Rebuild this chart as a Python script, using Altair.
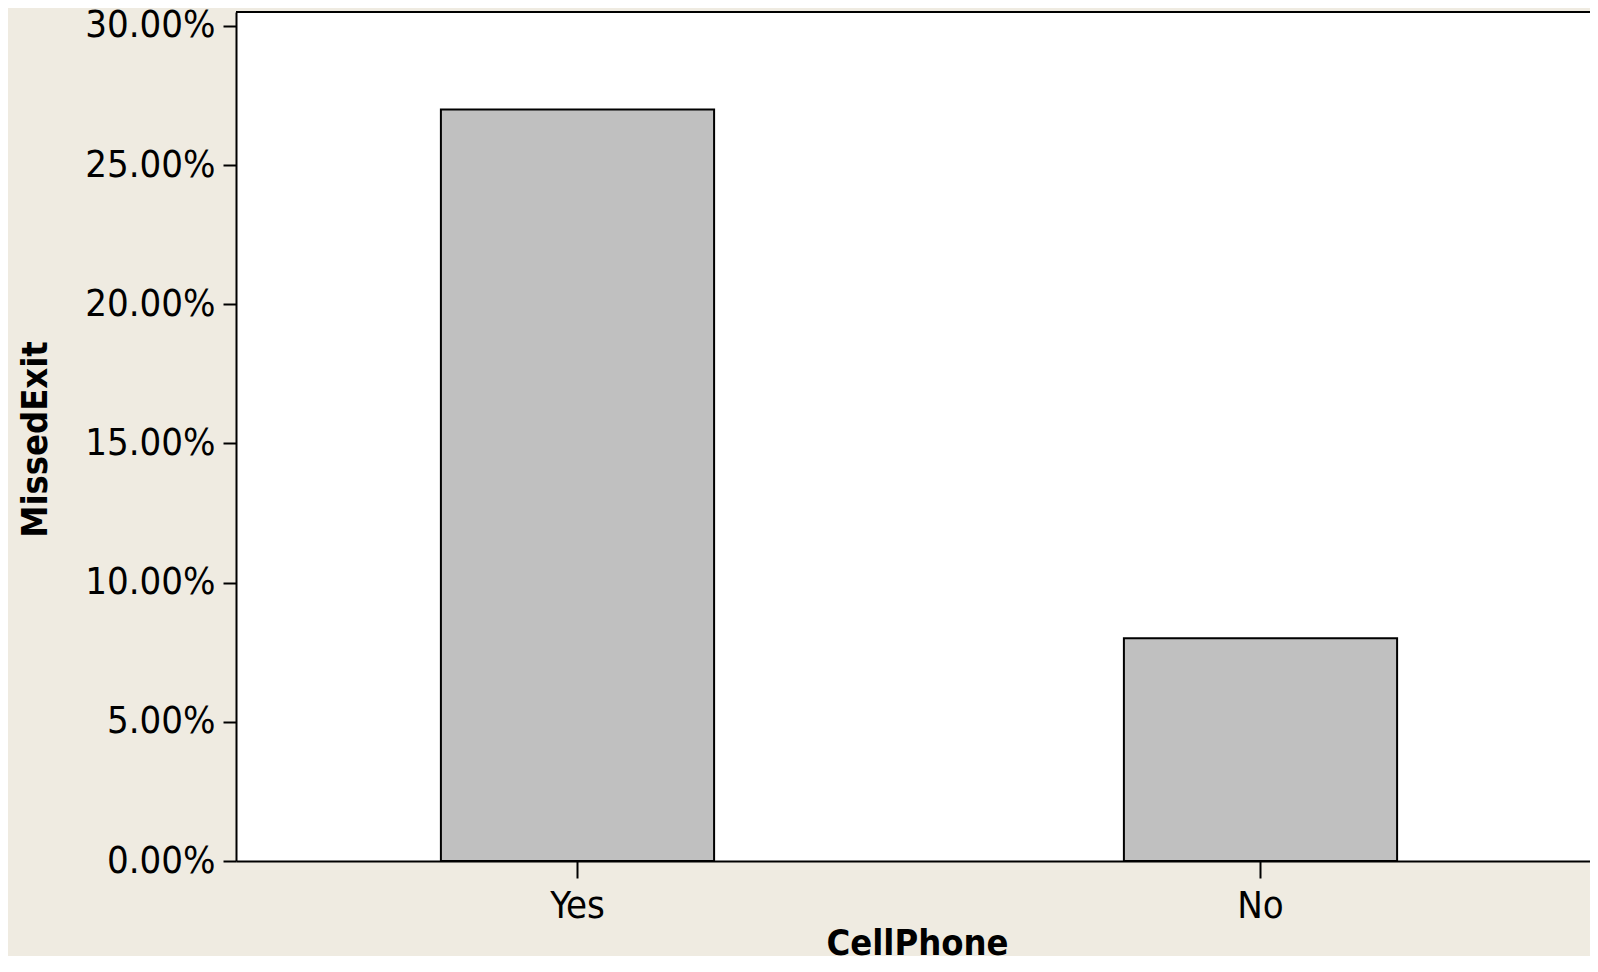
import altair as alt
import pandas as pd

# Data
cellphone = ["Yes", "No"]
missed_exit = [0.27, 0.08]
y_ticks = [0.0, 0.05, 0.10, 0.15, 0.20, 0.25, 0.30]

df = pd.DataFrame({"CellPhone": cellphone, "MissedExit": missed_exit})

W, H = 1354, 849
FONT = "DejaVu Sans Condensed, DejaVu Sans, sans-serif"

bars = alt.Chart(df).mark_bar(fill="#C0C0C0", stroke="black", strokeWidth=2).encode(
    x=alt.X(
        "CellPhone:N",
        sort=cellphone,
        scale=alt.Scale(range=[0, 1366], paddingInner=0.6, paddingOuter=0.3),
        axis=alt.Axis(
            title="CellPhone",
            labelAngle=0,
            tickSize=17,
            labelPadding=9,
            titleX=681,
            titleY=93,
            titleBaseline="alphabetic",
            titleAlign="center",
        ),
    ),
    y=alt.Y(
        "MissedExit:Q",
        scale=alt.Scale(domain=[0, 0.305], nice=False, zero=True),
        axis=alt.Axis(
            title="MissedExit",
            values=y_ticks,
            format=".2%",
            tickSize=13,
            labelPadding=8,
            titleX=-190,
            titleY=427,
            titleAngle=270,
            titleBaseline="alphabetic",
            titleAlign="center",
        ),
    ),
)

top_border = alt.Chart(alt.Data(values=[{}])).mark_rule(color="black", strokeWidth=2).encode(
    x=alt.value(0), x2=alt.value(W), y=alt.value(0)
)

chart = (
    alt.layer(bars, top_border)
    .properties(
        width=W,
        height=H,
        autosize=alt.AutoSizeParams(type="none"),
        padding={"left": 228, "top": 4, "right": 0, "bottom": 95},
        background="#EFEBE1",
    )
    .configure_view(fill="white", strokeWidth=0)
    .configure_axis(
        grid=False,
        domainColor="black",
        domainWidth=2,
        tickColor="black",
        tickWidth=2,
        labelColor="black",
        labelFont=FONT,
        labelFontSize=38,
        titleColor="black",
        titleFont=FONT,
        titleFontSize=36,
        titleFontWeight="bold",
    )
)

chart.save("out.html", embed_options={"renderer": "svg", "actions": False})
